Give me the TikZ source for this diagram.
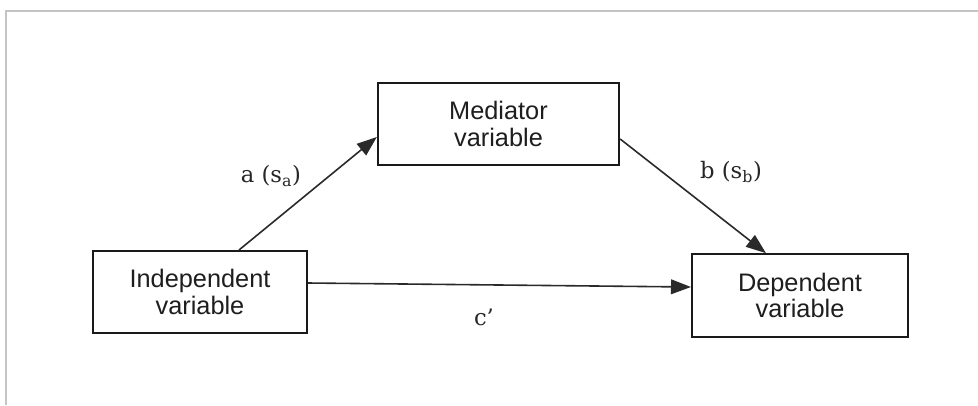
\documentclass[tikz,border=0pt]{standalone}
\usepackage{fontspec}
\setmainfont{Liberation Sans}
\newfontfamily\labelfont{DejaVu Serif}
\usetikzlibrary{arrows.meta,calc}

\definecolor{framegray}{HTML}{C4C4C4}
\definecolor{boxline}{HTML}{1A1A1A}
\definecolor{arrowline}{HTML}{2A2A2A}
\definecolor{inktext}{HTML}{1E1E1E}
\definecolor{labeltext}{HTML}{262626}

\tikzset{
  varbox/.style={draw=boxline, line width=1.5pt, fill=white, inner sep=0pt,
    align=center, text=inktext,
    font=\fontsize{19}{20}\selectfont},
  path arrow/.style={draw=arrowline, line width=1.2pt,
    -{Triangle[length=15pt,width=11pt]}},
  pathlabel/.style={text=labeltext, inner sep=0pt,
    font=\labelfont\fontsize{17}{17}\selectfont},
}

\begin{document}
\begin{tikzpicture}[x=0.75pt,y=-0.75pt]
  \useasboundingbox (0,0) rectangle (978,405);

  % light frame along the top and left edges
  \draw[framegray, line width=1.5pt] (5.5,405) -- (5.5,10.5) -- (978,10.5);

  % the three variables
  \node[varbox, minimum width=181pt, minimum height=61.5pt]
    (med) at (498.5,124) {Mediator\\variable};
  \node[varbox, minimum width=160.5pt, minimum height=61.5pt]
    (ind) at (200,292) {Independent\\variable};
  \node[varbox, minimum width=162pt, minimum height=62pt]
    (dep) at (800,295.5) {Dependent\\variable};

  % paths a, b and c'
  \draw[path arrow] ($(ind.north west)+(147,0)$) -- ($(med.west)+(0,13)$);
  \draw[path arrow] ($(med.east)+(0,15)$) -- ($(dep.north west)+(75,0)$);
  \draw[path arrow] ($(ind.east)+(0,-9)$) -- ($(dep.west)+(0,-8.5)$);

  % path coefficients
  \node[pathlabel] (la) at (271,176) {a (s\textsubscript{a})};
  \node[pathlabel] (lb) at (731,172) {b (s\textsubscript{b})};
  \node[pathlabel] (lc) at (484,317) {c’};
\end{tikzpicture}
\end{document}
